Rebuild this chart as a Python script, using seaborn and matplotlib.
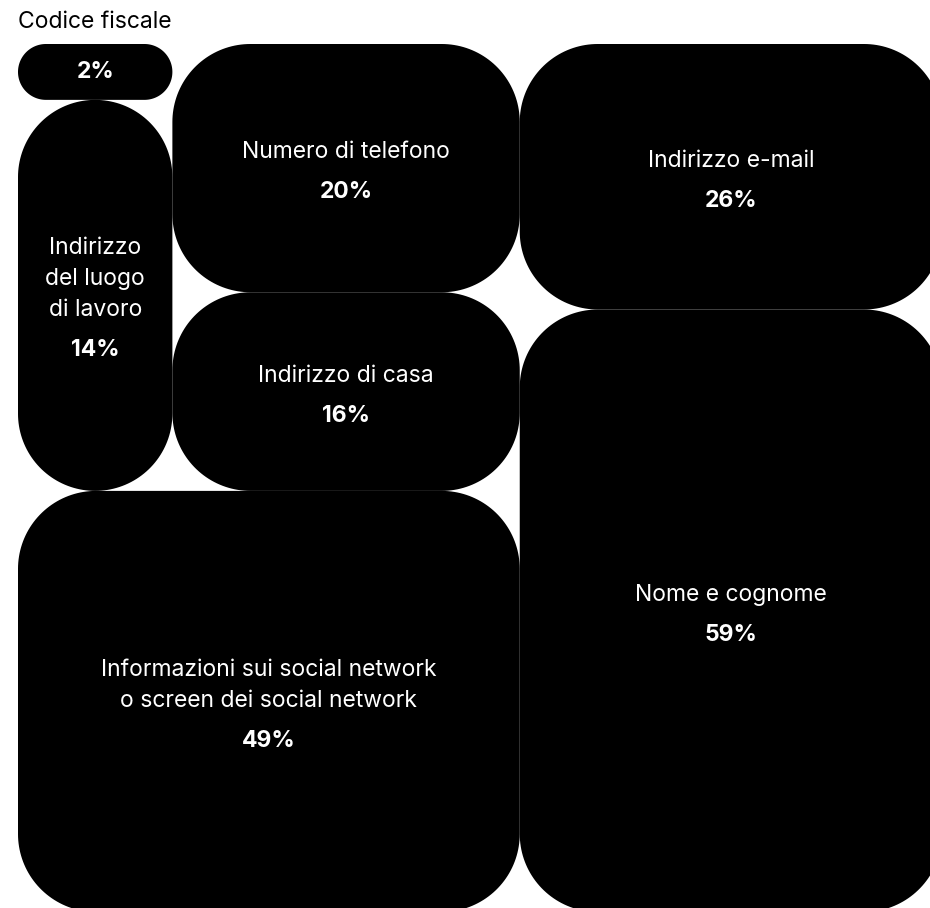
import numpy as np
import matplotlib.pyplot as plt
import seaborn as sns

sns.set_theme(style="white")
plt.rcParams['font.family'] = ['Inter', 'DejaVu Sans']

# data, in the order the tiles are laid out
labels = [
    "Codice fiscale",
    "Indirizzo\ndel luogo\ndi lavoro",
    "Numero di telefono",
    "Indirizzo di casa",
    "Informazioni sui social network\no screen dei social network",
    "Indirizzo e-mail",
    "Nome e cognome",
]
values = [2, 14, 20, 16, 49, 26, 59]

W, H = 924, 868      # treemap area in pixels (runs a little past the bottom)
RADIUS = 78
LINE = 31
VALUE_GAP = 40
FS = 16.5


def partition(vals, i, j, x0, y0, x1, y1, out):
    # binary treemap: split the ordered list where the sum is nearest to half
    if j - i == 1:
        out[i] = (x0, y0, x1, y1)
        return
    sums = np.concatenate([[0], np.cumsum(vals[i:j])])
    total = sums[-1]
    k = 1 + int(np.argmin(np.abs(sums[1:-1] - total / 2)))
    frac = sums[k] / total
    if x1 - x0 > y1 - y0:
        xk = x0 + (x1 - x0) * frac
        partition(vals, i, i + k, x0, y0, xk, y1, out)
        partition(vals, i + k, j, xk, y0, x1, y1, out)
    else:
        yk = y0 + (y1 - y0) * frac
        partition(vals, i, i + k, x0, y0, x1, yk, out)
        partition(vals, i + k, j, x0, yk, x1, y1, out)


def rounded_rect(x0, y0, x1, y1, r):
    r = min(r, (x1 - x0) / 2, (y1 - y0) / 2)
    t = np.linspace(0, np.pi / 2, 40)
    corners = [
        (x1 - r, y1 - r, t),
        (x0 + r, y1 - r, t + np.pi / 2),
        (x0 + r, y0 + r, t + np.pi),
        (x1 - r, y0 + r, t + 3 * np.pi / 2),
    ]
    xs, ys = [], []
    for cx, cy, a in corners:
        xs.extend(cx + r * np.cos(a))
        ys.extend(cy + r * np.sin(a))
    return xs, ys


rects = [None] * len(values)
partition(np.array(values, float), 0, len(values), 0, 0, W, H, rects)

fig = plt.figure(figsize=(9.3, 9.08), dpi=100)
ax = fig.add_axes([18 / 930, (908 - 44 - H) / 908, W / 930, H / 908])
ax.set_xlim(0, W)
ax.set_ylim(H, 0)
ax.axis('off')

for lab, val, (x0, y0, x1, y1) in zip(labels, values, rects):
    xs, ys = rounded_rect(x0, y0, x1, y1, RADIUS)
    ax.fill(xs, ys, color='black', lw=0, clip_on=False)
    cx, cy = (x0 + x1) / 2, (y0 + y1) / 2
    lines = lab.split("\n")
    span = (len(lines) - 1) * LINE + VALUE_GAP
    if y1 - y0 < span + 40:
        # tile too small: name goes above it
        ax.text(x0, y0 - 22, lab, color='black', fontsize=FS,
                ha='left', va='center', clip_on=False)
        ax.text(cx, cy, f"{val}%", color='white', fontsize=FS,
                fontweight='bold', ha='center', va='center')
        continue
    top = cy - span / 2 + 4
    for n, line in enumerate(lines):
        ax.text(cx, top + n * LINE, line, color='white', fontsize=FS,
                ha='center', va='center')
    ax.text(cx, top + (len(lines) - 1) * LINE + VALUE_GAP, f"{val}%",
            color='white', fontsize=FS, fontweight='bold',
            ha='center', va='center')

fig.savefig("out.png", dpi=100, facecolor='white')
